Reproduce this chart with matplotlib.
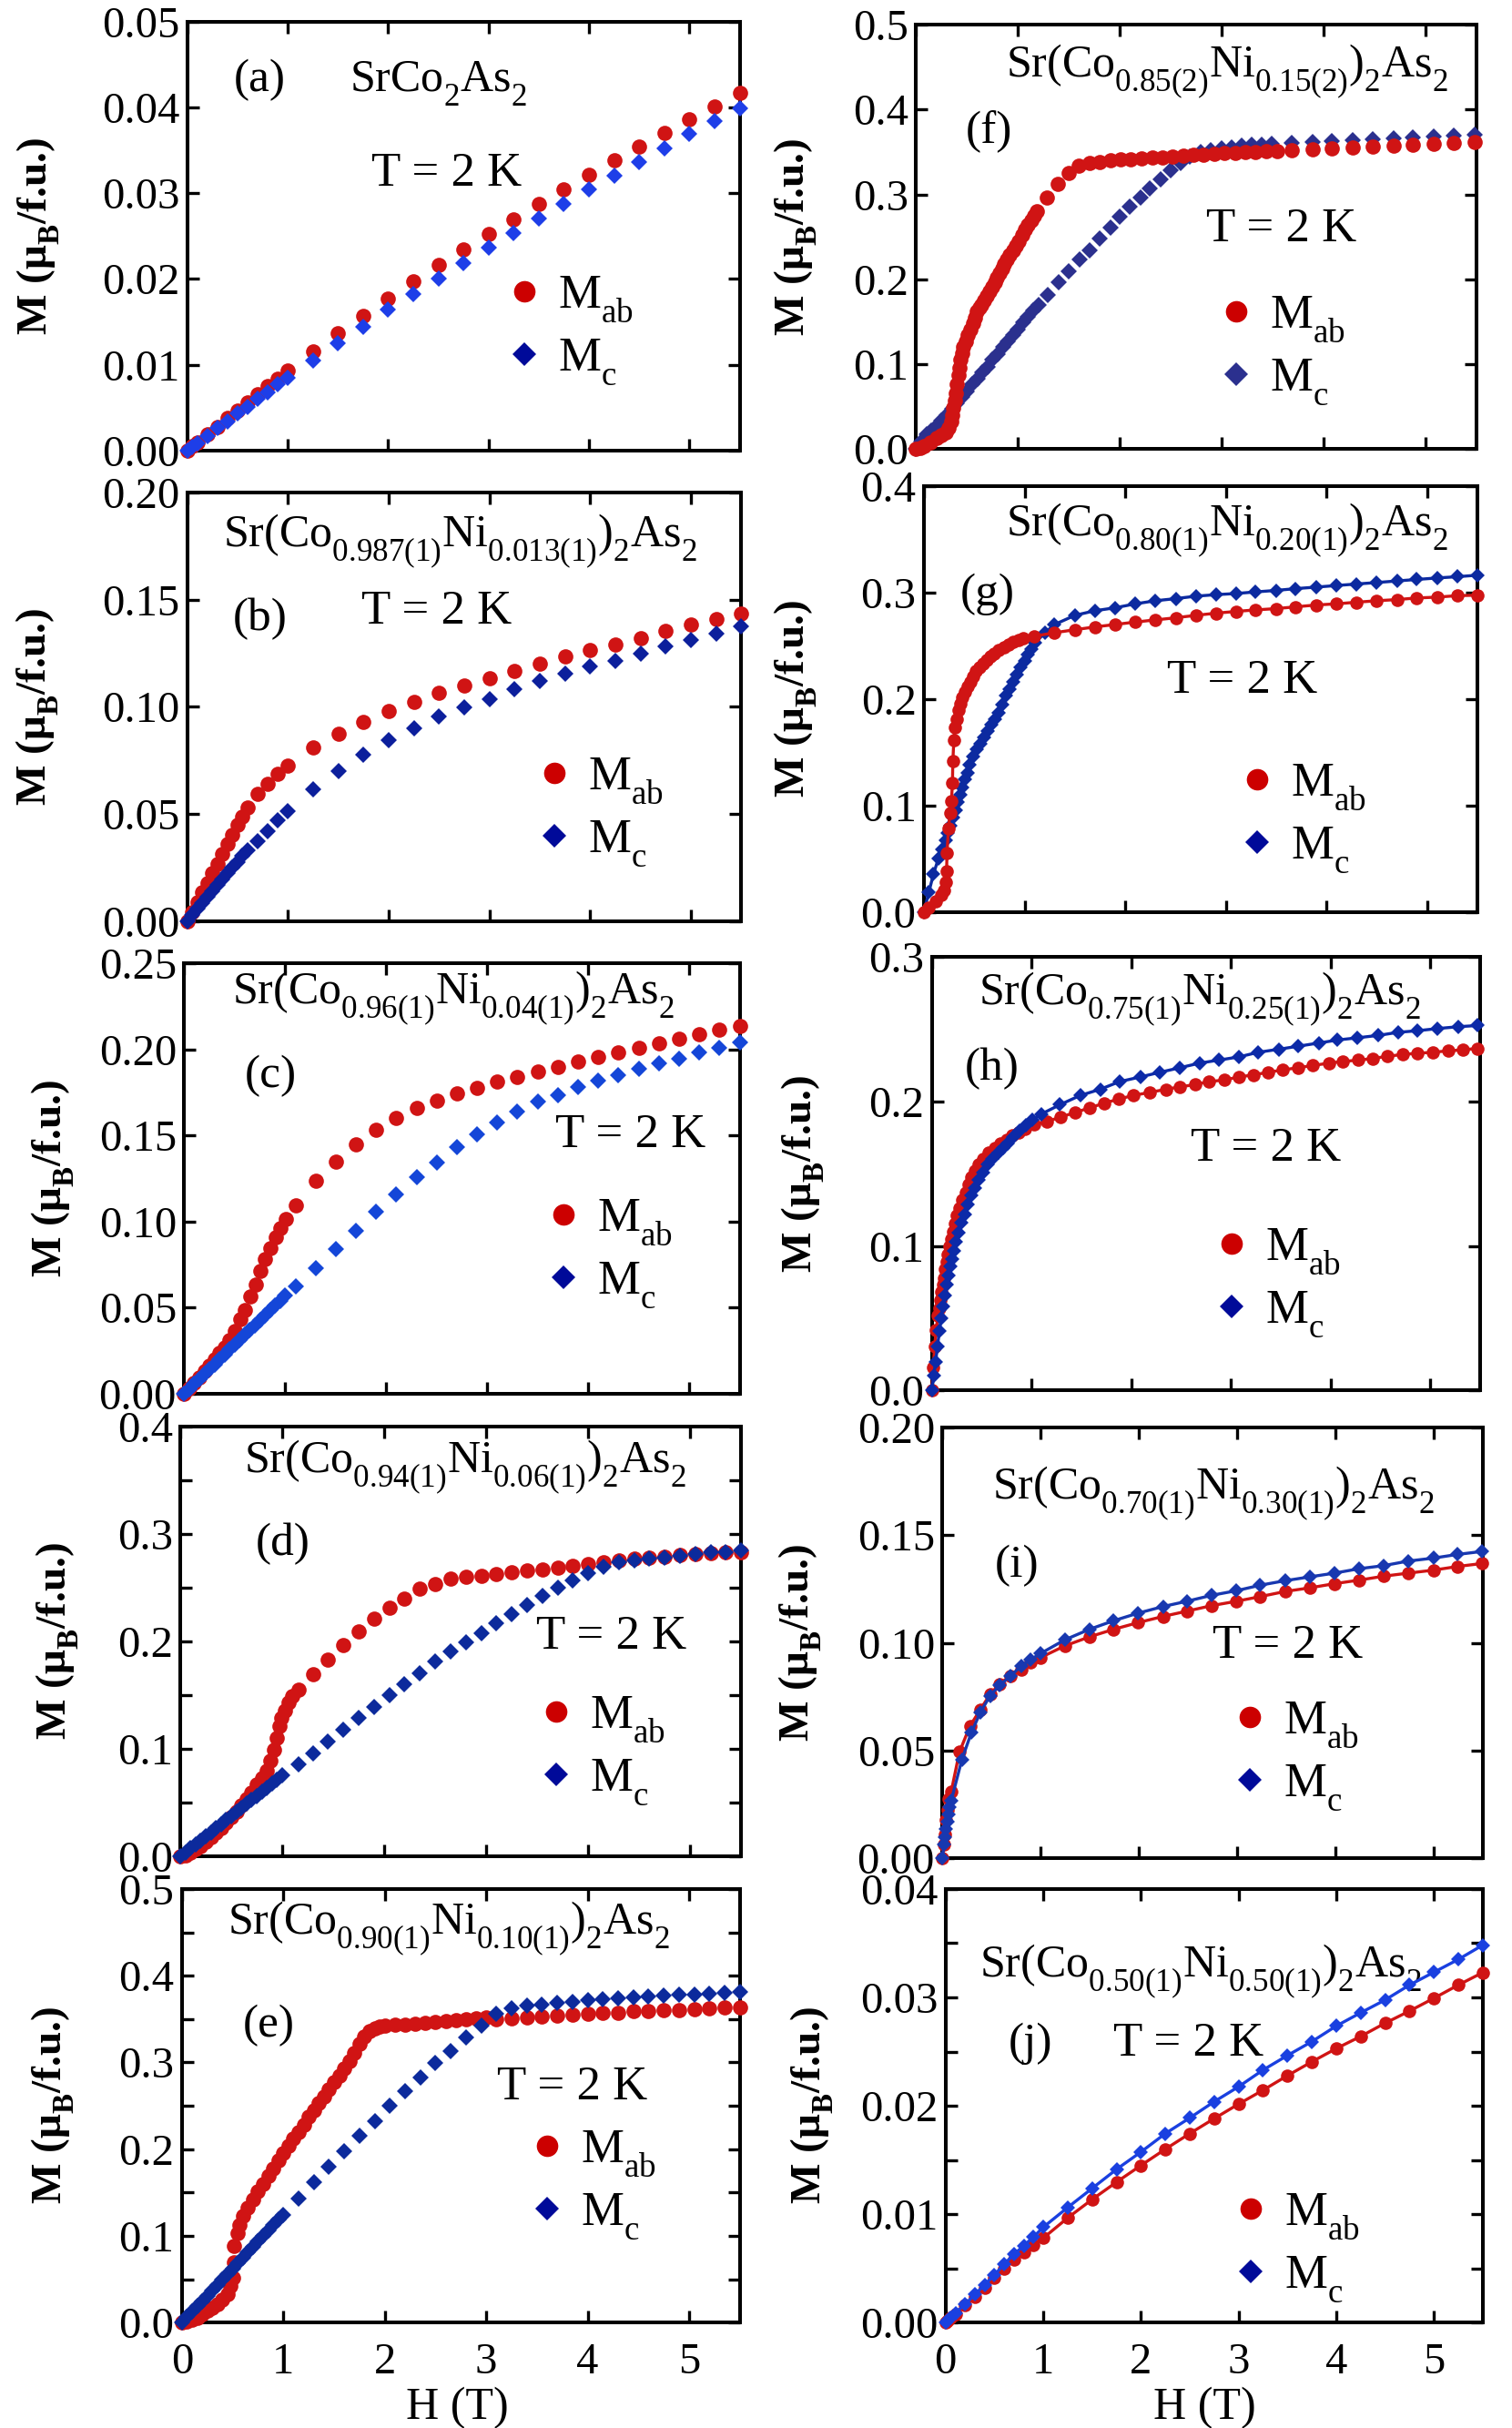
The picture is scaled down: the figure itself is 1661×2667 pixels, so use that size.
import matplotlib
matplotlib.use("Agg")
import matplotlib.pyplot as plt
import matplotlib._mathtext as mathtext_internals
from matplotlib.lines import Line2D
from matplotlib.ticker import MultipleLocator, FormatStrFormatter

plt.rcParams['font.family'] = 'Liberation Serif'
plt.rcParams['mathtext.fontset'] = 'custom'
plt.rcParams['mathtext.rm'] = 'Liberation Serif'
plt.rcParams['mathtext.it'] = 'Liberation Serif:italic'
plt.rcParams['mathtext.bf'] = 'Liberation Serif:bold'
# subscripts sit lower in the original typesetting
mathtext_internals.FontConstantsBase.sub1 = 0.7

# ---------------- data (H in T, M in muB/f.u.) ----------------
# (a) SrCo2As2
a_H = [0, 0.05, 0.1, 0.2, 0.3, 0.4, 0.5, 0.6, 0.7, 0.8, 0.9, 1.0, 1.25, 1.5, 1.75, 2.0, 2.25, 2.5,
       2.75, 3.0, 3.25, 3.5, 3.75, 4.0, 4.25, 4.5, 4.75, 5.0, 5.25, 5.5]
a_Mab = [0, 0.0005, 0.001, 0.0019, 0.0028, 0.0038, 0.0047, 0.0056, 0.0066, 0.0075, 0.0084, 0.0093,
         0.0116, 0.0137, 0.0157, 0.0177, 0.0197, 0.0216, 0.0234, 0.0253, 0.0270, 0.0288, 0.0305,
         0.0321, 0.0338, 0.0354, 0.0370, 0.0386, 0.0401, 0.0417]
a_Mc = [0, 0.0004, 0.0009, 0.0017, 0.0026, 0.0034, 0.0043, 0.0051, 0.006, 0.0068, 0.0077, 0.0085,
        0.0105, 0.0125, 0.0144, 0.0164, 0.0183, 0.0201, 0.0219, 0.0237, 0.0254, 0.0271, 0.0287,
        0.0304, 0.0320, 0.0336, 0.0352, 0.0369, 0.0384, 0.0399]

# (b) x = 0.013
b_H = [0, 0.05, 0.1, 0.15, 0.2, 0.25, 0.3, 0.35, 0.4, 0.45, 0.5, 0.55, 0.6, 0.7, 0.8, 0.9, 1.0,
       1.25, 1.5, 1.75, 2.0, 2.25, 2.5, 2.75, 3.0, 3.25, 3.5, 3.75, 4.0, 4.25, 4.5, 4.75, 5.0, 5.25, 5.5]
b_Mab = [0, 0.0045, 0.009, 0.0135, 0.018, 0.0225, 0.027, 0.0315, 0.036, 0.0405, 0.045, 0.049, 0.053,
         0.0594, 0.0643, 0.069, 0.0728, 0.0813, 0.0876, 0.093, 0.098, 0.1025, 0.1064, 0.1098, 0.1135,
         0.1169, 0.1201, 0.1234, 0.1265, 0.129, 0.1322, 0.1354, 0.1382, 0.141, 0.1437]
b_Mc = [0, 0.0029, 0.0058, 0.0086, 0.0114, 0.0142, 0.017, 0.0197, 0.0224, 0.0251, 0.0278, 0.0305, 0.033,
        0.0375, 0.042, 0.0473, 0.0516, 0.0615, 0.0702, 0.0777, 0.0844, 0.09, 0.0954, 0.0996, 0.1036,
        0.1081, 0.1119, 0.1155, 0.1187, 0.1216, 0.1248, 0.1282, 0.131, 0.1343, 0.1374]

# (c) x = 0.04
c_Hab = [0, 0.05, 0.1, 0.15, 0.2, 0.25, 0.3, 0.35, 0.4, 0.45, 0.5, 0.56, 0.6, 0.655, 0.708, 0.756,
         0.8, 0.856, 0.909, 0.957, 1.01, 1.11, 1.3, 1.5, 1.7, 1.9, 2.1, 2.3, 2.5, 2.7, 2.9, 3.1, 3.3,
         3.5, 3.7, 3.9, 4.1, 4.3, 4.5, 4.7, 4.9, 5.1, 5.3, 5.5]
c_Mab = [0, 0.003, 0.0062, 0.0095, 0.013, 0.0165, 0.02, 0.0235, 0.027, 0.031, 0.0365, 0.0431, 0.0488,
         0.0565, 0.0636, 0.0713, 0.0782, 0.0847, 0.0909, 0.0963, 0.1014, 0.1096, 0.1234, 0.135, 0.1447,
         0.1531, 0.1599, 0.1658, 0.17, 0.1742, 0.1774, 0.1811, 0.184, 0.187, 0.1897, 0.1929, 0.1955,
         0.1982, 0.2009, 0.2034, 0.2062, 0.2087, 0.2116, 0.2137]
c_Hc = [0, 0.05, 0.1, 0.15, 0.2, 0.25, 0.3, 0.35, 0.4, 0.45, 0.5, 0.55, 0.6, 0.65, 0.7, 0.75, 0.8,
        0.85, 0.9, 0.95, 1.0, 1.11, 1.3, 1.5, 1.7, 1.9, 2.1, 2.3, 2.5, 2.7, 2.9, 3.1, 3.3, 3.5, 3.7,
        3.9, 4.1, 4.3, 4.5, 4.7, 4.9, 5.1, 5.3, 5.5]
c_Mc = [0, 0.0028, 0.0057, 0.0085, 0.0114, 0.0142, 0.0171, 0.0199, 0.0228, 0.0256, 0.0285, 0.0313,
        0.0342, 0.037, 0.0398, 0.0427, 0.0455, 0.0484, 0.0512, 0.0541, 0.0569, 0.0624, 0.0729, 0.0841,
        0.0948, 0.1055, 0.1157, 0.1257, 0.1344, 0.143, 0.1504, 0.1576, 0.164, 0.1697, 0.1733, 0.1781,
        0.1818, 0.1852, 0.1888, 0.1916, 0.1947, 0.1982, 0.2009, 0.2041]

# (d) x = 0.06
d_Hab = [0, 0.05, 0.1, 0.15, 0.2, 0.25, 0.3, 0.35, 0.4, 0.45, 0.5, 0.55, 0.6, 0.65, 0.7, 0.75, 0.8, 0.85,
         0.887, 0.915, 0.943, 0.97, 0.995, 1.03, 1.066, 1.10, 1.156,
         1.3, 1.45, 1.6, 1.75, 1.9, 2.05, 2.2, 2.35, 2.5, 2.65, 2.8, 2.95, 3.1, 3.25, 3.4, 3.55, 3.7,
         3.85, 4.0, 4.15, 4.3, 4.45, 4.6, 4.75, 4.9, 5.05, 5.2, 5.35, 5.5]
d_Mab = [0, 0.0015, 0.004, 0.007, 0.01, 0.014, 0.018, 0.022, 0.027, 0.032, 0.037, 0.042, 0.048, 0.054,
         0.06, 0.067, 0.073, 0.08,
         0.0896, 0.0995, 0.11, 0.121, 0.129, 0.136, 0.143, 0.149, 0.155,
         0.1696, 0.183, 0.197, 0.209, 0.221, 0.231, 0.240, 0.249, 0.2536, 0.258, 0.26, 0.2612, 0.2627,
         0.264, 0.2658, 0.2672, 0.2686, 0.27, 0.272, 0.274, 0.2754, 0.277, 0.278, 0.279, 0.2805, 0.2813,
         0.2819, 0.2827, 0.283]
d_Hc = [0, 0.05, 0.1, 0.15, 0.2, 0.25, 0.3, 0.35, 0.4, 0.45, 0.5, 0.55, 0.6, 0.65, 0.7, 0.75, 0.8, 0.85,
        0.9, 0.95, 1.0, 1.156,
        1.3, 1.45, 1.6, 1.75, 1.9, 2.05, 2.2, 2.35, 2.5, 2.65, 2.8, 2.95, 3.1, 3.25, 3.4, 3.55, 3.7,
        3.85, 4.0, 4.15, 4.3, 4.45, 4.6, 4.75, 4.9, 5.05, 5.2, 5.35, 5.5]
d_Mc = [0, 0.0038, 0.0076, 0.0113, 0.0151, 0.0189, 0.0227, 0.0264, 0.0302, 0.034, 0.0378, 0.0415,
        0.0453, 0.0491, 0.0529, 0.0566, 0.0604, 0.0642, 0.068, 0.0717, 0.0755, 0.086,
        0.0961, 0.1066, 0.1179, 0.1292, 0.139, 0.150, 0.160, 0.170, 0.1815, 0.1908, 0.199, 0.208,
        0.217, 0.225, 0.234, 0.242, 0.250, 0.257, 0.2635, 0.269, 0.2734, 0.2757, 0.277, 0.278, 0.2796,
        0.281, 0.2827, 0.2833, 0.2847]

# (e) x = 0.10
e_Hab = [0, 0.05, 0.1, 0.15, 0.2, 0.25, 0.3, 0.35, 0.4, 0.45, 0.48, 0.5, 0.51, 0.514, 0.548, 0.571, 0.6,
         0.65, 0.7, 0.75, 0.8, 0.85, 0.9, 0.95, 1.0, 1.05, 1.1, 1.15, 1.2, 1.25, 1.3, 1.35, 1.4, 1.45,
         1.5, 1.55, 1.6, 1.65, 1.7, 1.75, 1.8, 1.85, 1.9, 1.95, 2.0,
         2.1, 2.2, 2.3, 2.4, 2.5, 2.6, 2.7, 2.8, 2.9, 3.0,
         3.1, 3.25, 3.4, 3.55, 3.7, 3.85, 4.0, 4.15, 4.3, 4.45, 4.6, 4.75, 4.9, 5.05, 5.2, 5.35, 5.5]
e_Mab = [0, 0.001, 0.003, 0.006, 0.01, 0.0135, 0.017, 0.0215, 0.026, 0.033, 0.042, 0.052, 0.07, 0.0887,
         0.1034, 0.1126, 0.123,
         0.133, 0.142, 0.151, 0.160, 0.169, 0.178, 0.187, 0.196, 0.204, 0.212, 0.220, 0.228, 0.237, 0.245,
         0.253, 0.261, 0.269, 0.277, 0.285, 0.293, 0.302, 0.311, 0.321, 0.330, 0.336, 0.339, 0.341, 0.342,
         0.343, 0.344, 0.345, 0.346, 0.347, 0.348, 0.349, 0.350, 0.351, 0.352,
         0.350, 0.351, 0.352, 0.353, 0.354, 0.355, 0.356, 0.357, 0.3574, 0.359, 0.359, 0.360, 0.3606,
         0.3614, 0.3622, 0.363, 0.3638]
e_Hc = [0, 0.05, 0.1, 0.15, 0.2, 0.25, 0.3, 0.35, 0.4, 0.45, 0.5, 0.55, 0.6, 0.65, 0.7, 0.75, 0.8, 0.85,
        0.9, 0.95, 1.0,
        1.15, 1.3, 1.45, 1.6, 1.75, 1.9, 2.05, 2.2, 2.35, 2.5, 2.65, 2.8, 2.95, 3.1, 3.25, 3.4, 3.55,
        3.7, 3.85, 4.0, 4.15, 4.3, 4.45, 4.6, 4.75, 4.9, 5.05, 5.2, 5.35, 5.5]
e_Mc = [0, 0.0062, 0.0125, 0.0187, 0.0249, 0.0312, 0.0374, 0.0436, 0.0498, 0.0561, 0.0623, 0.0685,
        0.0748, 0.081, 0.0872, 0.0935, 0.0997, 0.1059, 0.1121, 0.1184, 0.1246,
        0.1434, 0.1617, 0.1793, 0.1973, 0.2153, 0.2324, 0.2504, 0.2664, 0.2824, 0.2991, 0.3135, 0.3283,
        0.3423, 0.3562, 0.3622, 0.3654, 0.367, 0.3682, 0.370, 0.3718, 0.373, 0.374, 0.3754, 0.3758,
        0.377, 0.3782, 0.3782, 0.3794, 0.380, 0.3814]

# (f) x = 0.15
f_Hab = [0, 0.04, 0.08, 0.14, 0.2, 0.25, 0.295, 0.32, 0.343, 0.355, 0.367, 0.378, 0.39, 0.40, 0.414,
         0.426, 0.438, 0.45, 0.462, 0.486, 0.51, 0.535, 0.557, 0.575, 0.595, 0.62, 0.643, 0.667, 0.69,
         0.72, 0.748, 0.77, 0.795, 0.82, 0.843, 0.865, 0.89, 0.92, 0.952, 0.98, 1.01, 1.04, 1.07, 1.10,
         1.13, 1.16, 1.186, 1.286, 1.39, 1.495, 1.595, 1.7, 1.805, 1.905, 2.01, 2.11, 2.214, 2.32, 2.414,
         2.52, 2.62, 2.72, 2.824, 2.93, 3.03, 3.13, 3.233, 3.333, 3.44, 3.548, 3.69, 3.89, 4.08, 4.29,
         4.486, 4.686, 4.88, 5.08, 5.28, 5.486]
f_Mab = [0, 0.001, 0.0036, 0.008, 0.0125, 0.016, 0.0196, 0.025, 0.032, 0.04, 0.048, 0.057, 0.066, 0.076,
         0.0875, 0.096, 0.105, 0.113, 0.12, 0.127, 0.134, 0.141, 0.148, 0.155, 0.1625, 0.166, 0.170,
         0.175, 0.180, 0.186, 0.191, 0.196, 0.2018, 0.207, 0.2125, 0.218, 0.223, 0.229, 0.234, 0.239,
         0.2446, 0.252, 0.259, 0.264, 0.2696, 0.275, 0.280, 0.2964, 0.3125, 0.325, 0.334, 0.3368, 0.3386,
         0.340, 0.341, 0.3418, 0.343, 0.3436, 0.344, 0.3446, 0.3454, 0.3464, 0.347, 0.348, 0.349, 0.3493,
         0.350, 0.3504, 0.351, 0.3514, 0.3525, 0.3536, 0.3543, 0.3554, 0.356, 0.357, 0.3582, 0.3596,
         0.3604, 0.3614]
f_Hc = [0, 0.05, 0.1, 0.15, 0.2, 0.25, 0.3, 0.35, 0.4, 0.45, 0.5, 0.55, 0.6, 0.65, 0.7, 0.75, 0.8, 0.85,
        0.9, 0.95, 1.0, 1.05, 1.1, 1.15, 1.2, 1.295, 1.4, 1.5, 1.605, 1.7, 1.805, 1.905, 2.0, 2.095, 2.2,
        2.295, 2.4, 2.495, 2.595, 2.69, 2.795, 2.895, 3.0, 3.095, 3.2, 3.295, 3.395, 3.49, 3.69, 3.89,
        4.08, 4.29, 4.486, 4.686, 4.88, 5.08, 5.28, 5.486]
f_Mc = [0, 0.009, 0.017, 0.022, 0.027, 0.033, 0.04, 0.047, 0.054, 0.061, 0.068, 0.076, 0.083, 0.09,
        0.097, 0.105, 0.112, 0.12, 0.127, 0.134, 0.141, 0.149, 0.156, 0.163, 0.17, 0.182, 0.196, 0.2096,
        0.2232, 0.2346, 0.2475, 0.2607, 0.274, 0.2857, 0.2964, 0.307, 0.318, 0.328, 0.3375, 0.3446, 0.350,
        0.3525, 0.3543, 0.3557, 0.357, 0.3582, 0.359, 0.3596, 0.3607, 0.3618, 0.3628, 0.364, 0.365, 0.366,
        0.367, 0.368, 0.369, 0.3704]

# (g) x = 0.20
g_Hab = [0, 0.05, 0.12, 0.17, 0.2, 0.215, 0.226, 0.23, 0.245, 0.26, 0.274, 0.284, 0.288, 0.298, 0.308,
         0.322, 0.341, 0.36, 0.385, 0.41, 0.433, 0.46, 0.49, 0.52, 0.553, 0.59, 0.625, 0.66, 0.697, 0.745,
         0.793, 0.84, 0.889, 0.94, 0.986, 1.096, 1.298, 1.5, 1.697, 1.899, 2.1, 2.298, 2.5, 2.7, 2.899,
         3.1, 3.293, 3.495, 3.692, 3.894, 4.096, 4.293, 4.495, 4.697, 4.894, 5.096, 5.298, 5.495]
g_Mab = [0, 0.004, 0.01, 0.0157, 0.02, 0.028, 0.0386, 0.0557, 0.0786, 0.093, 0.104, 0.121, 0.1414,
         0.1614, 0.173, 0.1814, 0.19, 0.196, 0.2014, 0.2065, 0.2114, 0.2165, 0.2214, 0.226, 0.230, 0.2335,
         0.237, 0.240, 0.243, 0.246, 0.2486, 0.251, 0.2534, 0.2555, 0.257, 0.259, 0.2623, 0.2651, 0.2677,
         0.270, 0.2723, 0.2743, 0.2763, 0.2786, 0.2806, 0.2823, 0.2837, 0.2849, 0.2866, 0.2883, 0.2894,
         0.2909, 0.2923, 0.2934, 0.2949, 0.2957, 0.2971, 0.2975]
g_Hc = [0, 0.05, 0.096, 0.144, 0.18, 0.216, 0.24, 0.264, 0.29, 0.313, 0.34, 0.361, 0.385, 0.409, 0.433,
        0.457, 0.49, 0.529, 0.565, 0.6, 0.637, 0.673, 0.71, 0.745, 0.78, 0.817, 0.853, 0.889, 0.925,
        0.962, 1.0, 1.034, 1.07, 1.106, 1.2, 1.298, 1.5, 1.697, 1.899, 2.1, 2.298, 2.5, 2.7, 2.899, 3.1,
        3.293, 3.495, 3.692, 3.894, 4.096, 4.293, 4.495, 4.697, 4.894, 5.096, 5.298, 5.495]
g_Mc = [0, 0.0186, 0.0357, 0.05, 0.059, 0.067, 0.074, 0.0814, 0.089, 0.0957, 0.103, 0.11, 0.117, 0.1243,
        0.131, 0.1386, 0.146, 0.1529, 0.158, 0.1643, 0.170, 0.1757, 0.181, 0.1871, 0.195, 0.2029, 0.209,
        0.2157, 0.223, 0.23, 0.236, 0.2414, 0.247, 0.2529, 0.262, 0.270, 0.2786, 0.2829, 0.2857, 0.2894,
        0.2923, 0.2943, 0.2966, 0.298, 0.2991, 0.3006, 0.302, 0.3037, 0.3051, 0.3066, 0.308, 0.3094,
        0.3109, 0.3123, 0.3137, 0.3149, 0.3163]

# (h) x = 0.25
h_Hab = [0, 0.015, 0.03, 0.045, 0.063, 0.075, 0.087, 0.1, 0.111, 0.123, 0.135, 0.147, 0.159, 0.176,
         0.193, 0.212, 0.232, 0.255, 0.28, 0.31, 0.338, 0.37, 0.4, 0.435, 0.473, 0.52, 0.57, 0.63, 0.69,
         0.75, 0.81, 0.87, 0.932, 1.03, 1.15, 1.295, 1.44, 1.585, 1.73, 1.874, 2.02, 2.19, 2.35, 2.49,
         2.64, 2.78, 2.93, 3.08, 3.23, 3.37, 3.52, 3.67, 3.82, 3.98, 4.12, 4.28, 4.42, 4.57, 4.72, 4.87,
         5.02, 5.18, 5.33, 5.47]
h_Mab = [0, 0.016, 0.0305, 0.042, 0.052, 0.057, 0.0624, 0.068, 0.073, 0.078, 0.0837, 0.089, 0.0944, 0.1,
         0.105, 0.110, 0.1157, 0.121, 0.1264, 0.132, 0.137, 0.1425, 0.1477, 0.152, 0.1562, 0.1605, 0.1647,
         0.168, 0.171, 0.1737, 0.1764, 0.1786, 0.1807, 0.1839, 0.186, 0.1892, 0.1924, 0.1956, 0.1988,
         0.2016, 0.2041, 0.2063, 0.2084, 0.2101, 0.2116, 0.2137, 0.2148, 0.2169, 0.2184, 0.2201, 0.2218,
         0.2233, 0.2248, 0.2265, 0.2276, 0.2286, 0.2297, 0.2312, 0.2325, 0.2333, 0.234, 0.235, 0.2357,
         0.2367]
h_Hc = [0, 0.02, 0.039, 0.058, 0.077, 0.094, 0.111, 0.13, 0.15, 0.167, 0.184, 0.203, 0.222, 0.245, 0.27,
        0.3, 0.329, 0.365, 0.4, 0.435, 0.473, 0.515, 0.56, 0.61, 0.667, 0.715, 0.763, 0.82, 0.884, 0.945,
        1.005, 1.1, 1.285, 1.488, 1.69, 1.884, 2.09, 2.285, 2.488, 2.686, 2.88, 3.08, 3.275, 3.48, 3.676,
        3.88, 4.07, 4.266, 4.48, 4.676, 4.87, 5.07, 5.28, 5.47]
h_Mc = [0, 0.0105, 0.0198, 0.0305, 0.0411, 0.05, 0.0582, 0.066, 0.0731, 0.0795, 0.0859, 0.091, 0.0965,
        0.103, 0.1093, 0.116, 0.1221, 0.1285, 0.1349, 0.1402, 0.1455, 0.151, 0.1562, 0.1605, 0.1647,
        0.168, 0.1711, 0.1755, 0.1796, 0.1835, 0.1871, 0.1913, 0.1977, 0.2041, 0.2084, 0.2137, 0.2169,
        0.2201, 0.2233, 0.2265, 0.2286, 0.2308, 0.234, 0.2361, 0.2382, 0.2404, 0.2425, 0.244, 0.2457,
        0.2478, 0.2489, 0.2504, 0.2517, 0.2525]

# (i) x = 0.30
i_Hab = [0, 0.015, 0.025, 0.035, 0.05, 0.06, 0.09, 0.173, 0.28, 0.385, 0.484, 0.583, 0.69, 0.8, 0.9,
         1.0, 1.245, 1.496, 1.743, 1.99, 2.247, 2.494, 2.74, 2.988, 3.235, 3.49, 3.743, 3.99, 4.247,
         4.494, 4.74, 5.0, 5.244, 5.496]
i_Mab = [0, 0.0063, 0.011, 0.0176, 0.0225, 0.0275, 0.031, 0.0493, 0.0613, 0.069, 0.076, 0.081, 0.0845,
         0.0877, 0.0911, 0.0932, 0.0986, 0.1028, 0.1063, 0.1094, 0.1123, 0.1148, 0.1173, 0.1193, 0.1215,
         0.1239, 0.1256, 0.1275, 0.1292, 0.131, 0.1324, 0.1338, 0.1355, 0.1369]
i_Hc = [0, 0.015, 0.025, 0.035, 0.05, 0.06, 0.075, 0.09, 0.198, 0.296, 0.385, 0.484, 0.583, 0.69, 0.8,
        0.9, 1.0, 1.245, 1.496, 1.743, 1.99, 2.247, 2.494, 2.74, 2.988, 3.235, 3.49, 3.743, 3.99, 4.247,
        4.494, 4.74, 5.0, 5.244, 5.496]
i_Mc = [0, 0.0063, 0.0098, 0.0134, 0.017, 0.0204, 0.0236, 0.0268, 0.0458, 0.0585, 0.0676, 0.0754,
        0.0803, 0.0845, 0.0892, 0.0923, 0.0951, 0.1014, 0.1063, 0.1103, 0.1138, 0.1169, 0.1194, 0.1221,
        0.1242, 0.1268, 0.1289, 0.1307, 0.1324, 0.1345, 0.1359, 0.138, 0.1394, 0.1411, 0.1425]

# (j) x = 0.50
j_H = [0, 0.02, 0.05, 0.1, 0.2, 0.3, 0.4, 0.5, 0.6, 0.7, 0.8, 0.9, 1.0, 1.25, 1.5, 1.75, 2.0, 2.25, 2.5,
       2.75, 3.0, 3.25, 3.5, 3.75, 4.0, 4.25, 4.5, 4.75, 5.0, 5.25, 5.5]
j_Mab = [0, 0.0002, 0.0004, 0.0008, 0.0016, 0.0024, 0.0032, 0.0041, 0.005, 0.0058, 0.0065, 0.0072,
         0.0078, 0.00966, 0.01136, 0.01296, 0.0145, 0.016, 0.01744, 0.01882, 0.02016, 0.02144, 0.02278,
         0.02406, 0.02528, 0.0264, 0.02762, 0.02874, 0.02992, 0.03114, 0.03229]
j_Mc = [0, 0.0002, 0.0004, 0.0009, 0.0017, 0.0026, 0.0035, 0.0044, 0.0054, 0.0063, 0.0071, 0.0079,
        0.0088, 0.01062, 0.01238, 0.01414, 0.01574, 0.01744, 0.01888, 0.02038, 0.02176, 0.0233, 0.02464,
        0.02592, 0.02736, 0.02858, 0.02976, 0.03114, 0.03232, 0.0335, 0.03482]

# ---------------- styling ----------------
RED = '#d01414'
LEG_RED = '#cc0000'
NAVY = '#000a99'


def formula(co, ni):
    return (r'Sr(Co$_{\mathrm{%s}}$Ni$_{\mathrm{%s}}$)$_{\mathrm{2}}$As$_{\mathrm{2}}$' % (co, ni))


panels = [
    dict(tag='(a)', pos=[0.1238, 0.8144, 0.3654, 0.1767], ymax=0.05, step=0.01, minor=None, fmt='%.2f',
         ab=(a_H, a_Mab), c=(a_H, a_Mc), blue='#1e3ee8', lines=False, red_top=False,
         title=r'SrCo$_{\mathrm{2}}$As$_{\mathrm{2}}$', title_xy=(0.455, 0.855), tag_xy=(0.132, 0.863),
         T_xy=(0.470, 0.646), leg_xy=(0.610, 0.375, 0.231), ylx=-0.269, bottom=False),
    dict(tag='(b)', pos=[0.1238, 0.6205, 0.3664, 0.1767], ymax=0.20, step=0.05, minor=None, fmt='%.2f',
         ab=(b_H, b_Mab), c=(b_H, b_Mc), blue='#0c1f9c', lines=False, red_top=False,
         title=formula('0.987(1)', '0.013(1)'), title_xy=(0.493, 0.887), tag_xy=(0.132, 0.704),
         T_xy=(0.450, 0.722), leg_xy=(0.663, 0.350, 0.206), ylx=-0.270, bottom=False),
    dict(tag='(c)', pos=[0.1218, 0.4260, 0.3674, 0.1773], ymax=0.25, step=0.05, minor=None, fmt='%.2f',
         ab=(c_Hab, c_Mab), c=(c_Hc, c_Mc), blue='#1446d8', lines=False, red_top=False,
         title=formula('0.96(1)', '0.04(1)'), title_xy=(0.485, 0.920), tag_xy=(0.155, 0.737),
         T_xy=(0.803, 0.601), leg_xy=(0.683, 0.421, 0.277), ylx=-0.236, bottom=False),
    dict(tag='(d)', pos=[0.1192, 0.2353, 0.3710, 0.1773], ymax=0.4, step=0.1, minor=0.05, fmt='%.1f',
         ab=(d_Hab, d_Mab), c=(d_Hc, d_Mc), blue='#0c2a9c', lines=False, red_top=False,
         title=formula('0.94(1)', '0.06(1)'), title_xy=(0.508, 0.906), tag_xy=(0.183, 0.727),
         T_xy=(0.768, 0.511), leg_xy=(0.671, 0.342, 0.198), ylx=-0.219, bottom=False),
    dict(tag='(e)', pos=[0.1203, 0.0434, 0.3690, 0.1786], ymax=0.5, step=0.1, minor=0.05, fmt='%.1f',
         ab=(e_Hab, e_Mab), c=(e_Hc, e_Mc), blue='#0c2a9c', lines=False, red_top=False,
         title=formula('0.90(1)', '0.10(1)'), title_xy=(0.478, 0.910), tag_xy=(0.156, 0.686),
         T_xy=(0.700, 0.543), leg_xy=(0.655, 0.411, 0.271), ylx=-0.231, bottom=True, xlx=0.493),
    dict(tag='(f)', pos=[0.6059, 0.8151, 0.3705, 0.1747], ymax=0.5, step=0.1, minor=None, fmt='%.1f',
         ab=(f_Hab, f_Mab), c=(f_Hc, f_Mc), blue='#2b308e', lines=False, red_top=True,
         title=formula('0.85(2)', '0.15(2)'), title_xy=(0.555, 0.890), tag_xy=(0.130, 0.748),
         T_xy=(0.652, 0.518), leg_xy=(0.572, 0.328, 0.182), ylx=-0.215, bottom=False),
    dict(tag='(g)', pos=[0.6110, 0.6244, 0.3664, 0.1754], ymax=0.4, step=0.1, minor=None, fmt='%.1f',
         ab=(g_Hab, g_Mab), c=(g_Hc, g_Mc), blue='#0c2aa0', lines=True, red_top=True,
         title=formula('0.80(1)', '0.20(1)'), title_xy=(0.547, 0.897), tag_xy=(0.115, 0.745),
         T_xy=(0.575, 0.542), leg_xy=(0.601, 0.316, 0.171), ylx=-0.232, bottom=False),
    dict(tag='(h)', pos=[0.6162, 0.4273, 0.3628, 0.1786], ymax=0.3, step=0.1, minor=None, fmt='%.1f',
         ab=(h_Hab, h_Mab), c=(h_Hc, h_Mc), blue='#0c2aa8', lines=True, red_top=False,
         title=formula('0.75(1)', '0.25(1)'), title_xy=(0.488, 0.903), tag_xy=(0.110, 0.743),
         T_xy=(0.609, 0.557), leg_xy=(0.547, 0.343, 0.200), ylx=-0.234, bottom=False),
    dict(tag='(i)', pos=[0.6233, 0.2347, 0.3572, 0.1773], ymax=0.20, step=0.05, minor=None, fmt='%.2f',
         ab=(i_Hab, i_Mab), c=(i_Hc, i_Mc), blue='#1838b0', lines=True, red_top=False,
         title=formula('0.70(1)', '0.30(1)'), title_xy=(0.501, 0.848), tag_xy=(0.1375, 0.680),
         T_xy=(0.639, 0.493), leg_xy=(0.570, 0.331, 0.191), ylx=-0.264, bottom=False),
    dict(tag='(j)', pos=[0.6254, 0.0434, 0.3552, 0.1786], ymax=0.04, step=0.01, minor=0.005, fmt='%.2f',
         ab=(j_H, j_Mab), c=(j_H, j_Mc), blue='#1a40e0', lines=True, red_top=False,
         title=formula('0.50(1)', '0.50(1)'), title_xy=(0.4755, 0.810), tag_xy=(0.1585, 0.643),
         T_xy=(0.452, 0.643), leg_xy=(0.568, 0.268, 0.125), ylx=-0.248, bottom=True, xlx=0.483),
]

FIG_W, FIG_H = 16.61, 26.67
fig = plt.figure(figsize=(FIG_W, FIG_H), dpi=100)

for p in panels:
    ax = fig.add_axes(p['pos'])
    if p['lines']:
        st_ab = dict(ls='-', lw=2.4, marker='o', ms=10.5, mew=0, color=RED, clip_on=False)
        st_c = dict(ls='-', lw=2.4, marker='D', ms=8.5, mew=0, color=p['blue'], clip_on=False)
    else:
        st_ab = dict(ls='none', marker='o', ms=12, mew=0, color=RED, clip_on=False)
        st_c = dict(ls='none', marker='D', ms=9.5, mew=0, color=p['blue'], clip_on=False)
    if p['red_top']:
        ax.plot(*p['c'], zorder=3, **st_c)
        ax.plot(*p['ab'], zorder=4, **st_ab)
    else:
        ax.plot(*p['ab'], zorder=3, **st_ab)
        ax.plot(*p['c'], zorder=4, **st_c)

    ax.set_xlim(0, 5.5)
    ax.set_ylim(0, p['ymax'])
    ax.xaxis.set_major_locator(MultipleLocator(1))
    ax.yaxis.set_major_locator(MultipleLocator(p['step']))
    if p['minor']:
        ax.yaxis.set_minor_locator(MultipleLocator(p['minor']))
    ax.yaxis.set_major_formatter(FormatStrFormatter(p['fmt']))
    ax.tick_params(which='both', direction='in', top=True, right=True, length=9.5, width=2.4,
                   labelsize=35, pad=6)
    ax.tick_params(axis='x', labelbottom=p['bottom'], pad=16)
    for s in ax.spines.values():
        s.set_linewidth(2.9)

    ax.set_ylabel(r'M (μ$_{\mathbf{B}}$/f.u.)', fontsize=34, fontweight='bold')
    ax.yaxis.label.set_verticalalignment('center')
    ax.yaxis.set_label_coords(p['ylx'], 0.5)
    if p['bottom']:
        ax.set_xlabel('H (T)', fontsize=36)
        ax.xaxis.label.set_verticalalignment('center')
        ax.xaxis.set_label_coords(p['xlx'], -0.196)

    ax.text(*p['title_xy'], p['title'], transform=ax.transAxes, ha='center', va='center', fontsize=36)
    ax.text(*p['tag_xy'], p['tag'], transform=ax.transAxes, ha='center', va='center', fontsize=37)
    ax.text(*p['T_xy'], 'T = 2 K', transform=ax.transAxes, ha='center', va='center', fontsize=38)

    # legend
    ax_w_px = p['pos'][2] * FIG_W * 100
    lx, ly1, ly2 = p['leg_xy']
    leg_fs = 38
    hl = 0.8
    handles = [Line2D([], [], ls='none', marker='o', ms=17, mew=0, color=LEG_RED),
               Line2D([], [], ls='none', marker='D', ms=13.5, mew=0,
                      color=p['blue'] if p['tag'] == '(f)' else NAVY)]
    x0 = lx - (hl * leg_fs * 100 / 72 / 2) / ax_w_px
    ax.legend(handles, [r'M$_{\mathrm{ab}}$', r'M$_{\mathrm{c}}$'], loc='center left',
              bbox_to_anchor=(x0, (ly1 + ly2) / 2 - 0.025), frameon=False, fontsize=leg_fs,
              handlelength=hl, handletextpad=0.3, labelspacing=0.25, borderpad=0,
              borderaxespad=0, numpoints=1)

fig.savefig('out.png', dpi=100)
